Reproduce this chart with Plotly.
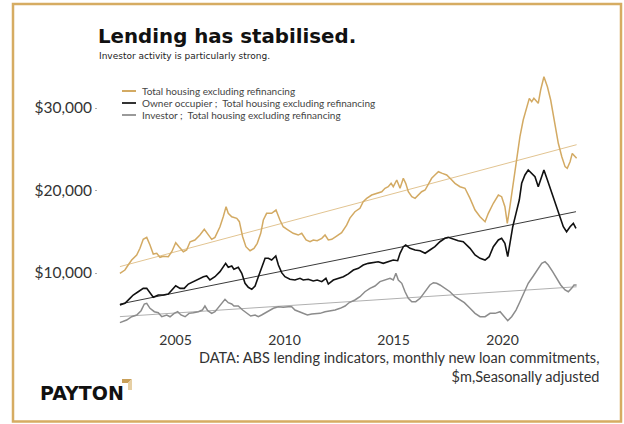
import numpy as np
import plotly.graph_objects as go

# Monthly new loan commitments, $m (seasonally adjusted), sampled along the series
total_years = [2002.45, 2002.68, 2002.83, 2002.99, 2003.22, 2003.37, 2003.52, 2003.68, 2003.83, 2003.98,
               2004.14, 2004.29, 2004.44, 2004.67, 2004.83, 2005.01, 2005.16, 2005.36, 2005.51, 2005.67,
               2005.89, 2006.12, 2006.32, 2006.50, 2006.66, 2006.81, 2007.04, 2007.19, 2007.32, 2007.42,
               2007.58, 2007.81, 2007.93, 2008.08, 2008.23, 2008.42, 2008.60, 2008.75, 2008.91, 2009.03,
               2009.18, 2009.41, 2009.61, 2009.79, 2009.94, 2010.17, 2010.40, 2010.63, 2010.79, 2010.99,
               2011.17, 2011.32, 2011.50, 2011.71, 2011.86, 2012.01, 2012.17, 2012.39, 2012.62, 2012.85,
               2013.00, 2013.23, 2013.46, 2013.61, 2013.77, 2014.00, 2014.23, 2014.46, 2014.61, 2014.76,
               2014.89, 2014.99, 2015.15, 2015.30, 2015.45, 2015.56, 2015.68, 2015.84, 2015.99, 2016.14,
               2016.29, 2016.45, 2016.60, 2016.75, 2016.90, 2017.06, 2017.24, 2017.44, 2017.64, 2017.82,
               2018.05, 2018.28, 2018.51, 2018.74, 2018.97, 2019.20, 2019.35, 2019.58, 2019.81, 2019.96,
               2020.11, 2020.22, 2020.34, 2020.50, 2020.65, 2020.80, 2020.95, 2021.11, 2021.23, 2021.34,
               2021.44, 2021.64, 2021.75, 2021.90, 2022.06, 2022.21, 2022.41, 2022.56, 2022.72, 2022.87,
               2022.97, 2023.10, 2023.20, 2023.33, 2023.40]
total_values = [9960, 10360, 10970, 11570, 12180, 12990, 14080, 14320, 13390, 12300,
                12390, 11900, 12020, 11980, 12580, 13670, 13190, 12580, 12790, 13790,
                14000, 14600, 15290, 14600, 14080, 14320, 15610, 16820, 18040, 17230,
                16820, 16630, 16220, 14400, 13190, 12700, 12990, 13600, 14810, 16420,
                17230, 17230, 17630, 16420, 15610, 15210, 14810, 14600, 14810, 14000,
                13790, 14000, 13910, 14200, 14600, 14000, 14080, 14480, 14880, 15800,
                16650, 17430, 17840, 18640, 19050, 19450, 19660, 19850, 20270, 20460,
                20870, 20460, 21270, 20270, 21480, 20870, 19850, 19250, 19050, 19450,
                19850, 20060, 20870, 21480, 21880, 22280, 22080, 21880, 21360, 20870,
                20460, 20270, 19050, 17630, 16820, 16220, 17230, 18450, 19450, 19250,
                18040, 16020, 18040, 20870, 23700, 26520, 28540, 30160, 31170, 30760,
                31170, 30570, 32180, 33790, 32580, 30970, 27730, 25720, 24100, 22890,
                22690, 23490, 24500, 24020, 23900]

owner_years = [2002.45, 2002.68, 2002.91, 2003.06, 2003.29, 2003.52, 2003.68, 2003.83, 2003.98, 2004.21,
               2004.44, 2004.67, 2004.85, 2005.01, 2005.21, 2005.40, 2005.59, 2005.82, 2006.05, 2006.28,
               2006.43, 2006.58, 2006.81, 2007.04, 2007.30, 2007.42, 2007.58, 2007.68, 2007.88, 2008.04,
               2008.19, 2008.34, 2008.50, 2008.65, 2008.80, 2008.95, 2009.11, 2009.26, 2009.41, 2009.60,
               2009.72, 2009.87, 2010.02, 2010.25, 2010.48, 2010.71, 2010.86, 2011.09, 2011.32, 2011.50,
               2011.71, 2011.90, 2012.01, 2012.24, 2012.47, 2012.70, 2012.93, 2013.16, 2013.39, 2013.61,
               2013.84, 2014.07, 2014.30, 2014.53, 2014.76, 2014.99, 2015.19, 2015.30, 2015.45, 2015.56,
               2015.76, 2015.99, 2016.22, 2016.45, 2016.67, 2016.90, 2017.13, 2017.36, 2017.51, 2017.74,
               2017.97, 2018.20, 2018.51, 2018.74, 2018.97, 2019.20, 2019.39, 2019.58, 2019.81, 2019.96,
               2020.11, 2020.24, 2020.34, 2020.47, 2020.62, 2020.77, 2020.88, 2021.03, 2021.18, 2021.34,
               2021.49, 2021.64, 2021.80, 2021.90, 2022.06, 2022.21, 2022.41, 2022.61, 2022.79, 2022.94,
               2023.10, 2023.25, 2023.37]
owner_values = [6120, 6330, 6930, 7330, 7730, 8140, 8140, 7540, 7050, 7330,
                7330, 7450, 7940, 8460, 8140, 8140, 8660, 8950, 9270, 9550,
                9640, 9150, 9550, 10160, 11170, 10690, 10850, 10450, 10690, 9960,
                8750, 8270, 8020, 8420, 9550, 10760, 11780, 11780, 11570, 12060,
                10970, 10040, 9550, 9240, 9150, 9360, 9150, 9240, 9030, 9150,
                8950, 9360, 8660, 9150, 9360, 9550, 9900, 10360, 10570, 10970,
                11170, 11250, 11370, 11170, 11370, 11570, 11490, 12390, 13190, 13390,
                12990, 12790, 12700, 12390, 12790, 13190, 13790, 14200, 14320, 14080,
                13910, 13790, 12990, 12180, 11780, 11570, 11980, 13190, 14000, 14200,
                13600, 11980, 13600, 15610, 17230, 18850, 20870, 21880, 22480, 22080,
                21670, 20460, 21670, 22480, 21270, 20060, 18450, 16820, 15610, 15000,
                15610, 16020, 15420]

investor_years = [2002.45, 2002.76, 2002.99, 2003.22, 2003.42, 2003.57, 2003.68, 2003.83, 2004.03, 2004.21,
                  2004.37, 2004.60, 2004.75, 2004.94, 2005.10, 2005.25, 2005.44, 2005.62, 2005.82, 2006.05,
                  2006.23, 2006.35, 2006.48, 2006.66, 2006.81, 2007.04, 2007.27, 2007.42, 2007.58, 2007.68,
                  2007.88, 2008.08, 2008.27, 2008.45, 2008.65, 2008.80, 2008.95, 2009.15, 2009.33, 2009.49,
                  2009.72, 2009.94, 2010.17, 2010.33, 2010.48, 2010.68, 2010.86, 2011.05, 2011.25, 2011.44,
                  2011.63, 2011.86, 2012.09, 2012.32, 2012.55, 2012.78, 2012.97, 2013.23, 2013.46, 2013.69,
                  2013.92, 2014.15, 2014.38, 2014.61, 2014.84, 2014.99, 2015.11, 2015.22, 2015.38, 2015.53,
                  2015.68, 2015.84, 2016.02, 2016.22, 2016.45, 2016.67, 2016.83, 2016.98, 2017.13, 2017.36,
                  2017.59, 2017.82, 2018.05, 2018.25, 2018.51, 2018.74, 2018.97, 2019.20, 2019.43, 2019.66,
                  2019.89, 2020.08, 2020.24, 2020.42, 2020.62, 2020.80, 2020.99, 2021.18, 2021.39, 2021.60,
                  2021.80, 2021.95, 2022.10, 2022.30, 2022.49, 2022.67, 2022.87, 2023.02, 2023.17, 2023.28,
                  2023.40]
investor_values = [3980, 4300, 4700, 4910, 5430, 6240, 6330, 5720, 5310, 5190,
                   4700, 4910, 4700, 5110, 5310, 4910, 4700, 5110, 5190, 5310,
                   5510, 6000, 5430, 5110, 5310, 6000, 6810, 6400, 6240, 6000,
                   6000, 5510, 5110, 4790, 4910, 4700, 4910, 5190, 5430, 5720,
                   5910, 5840, 5910, 5910, 5510, 5310, 5190, 4910, 5030, 5030,
                   5110, 5310, 5390, 5510, 5720, 6000, 6420, 6730, 7130, 7730,
                   8140, 8420, 8950, 9150, 9360, 9150, 9960, 9150, 8750, 7730,
                   6930, 6520, 6520, 6930, 7730, 8550, 8820, 8750, 8550, 8140,
                   7730, 7130, 6700, 6400, 5720, 5110, 4700, 4700, 5110, 5110,
                   5310, 4700, 4220, 4700, 5510, 6520, 7730, 8750, 9550, 10450,
                   11170, 11370, 10970, 10160, 9240, 8550, 7940, 7730, 8140, 8550,
                   8550]

series_names = [
    "Total housing excluding refinancing",
    "Owner occupier ;  Total housing excluding refinancing",
    "Investor ;  Total housing excluding refinancing",
]
year_ticks = [2005, 2010, 2015, 2020]
value_ticks = [10000, 20000, 30000]

GOLD = "#D3AA63"
BORDER = "#D6AC62"
series_style = [
    (total_years, total_values, GOLD, 1.5, "#E2C491"),
    (owner_years, owner_values, "#111111", 1.6, "#3a3a3a"),
    (investor_years, investor_values, "#8c8c8c", 1.5, "#b0b0b0"),
]

W, H = 624, 424
L, R, T, B = 98, 585, 70, 330


def fx(px):
    return (px - L) / (R - L)


def fy(py):
    return (B - py) / (B - T)


fig = go.Figure()

# linear trend for each series, fitted with least squares
for yrs, vals, col, lw, tcol in series_style:
    k, c = np.polyfit(yrs, vals, 1)
    xs = np.array([yrs[0], yrs[-1]])
    fig.add_trace(go.Scatter(x=xs, y=k * xs + c, mode="lines",
                             line=dict(color=tcol, width=1), hoverinfo="skip",
                             showlegend=False))

for (yrs, vals, col, lw, tcol), name in zip(series_style, series_names):
    fig.add_trace(go.Scatter(x=yrs, y=vals, mode="lines", name=name,
                             line=dict(color=col, width=lw), showlegend=False))

x0 = 2005 + (L - 175.5) / 21.8
x1 = 2005 + (R - 175.5) / 21.8
y_lo = (355.5 - B) * 10000 / 82.5
y_hi = (355.5 - T) * 10000 / 82.5

fig.update_layout(
    width=W, height=H,
    margin=dict(l=L, r=W - R, t=T, b=H - B),
    paper_bgcolor="white", plot_bgcolor="white",
    font=dict(family="Lato, 'Open Sans', sans-serif", color="#333333"),
    xaxis=dict(range=[x0, x1], tickvals=year_ticks, ticktext=[str(y) for y in year_ticks],
               showgrid=False, zeroline=False, showline=False, ticks="",
               tickfont=dict(size=14, color="#333333")),
    yaxis=dict(range=[y_lo, y_hi], tickvals=value_ticks,
               ticktext=["${:,}".format(v) for v in value_ticks],
               showgrid=False, zeroline=False, showline=False,
               ticks="outside", ticklen=2, tickcolor="#aaaaaa", tickwidth=1,
               tickfont=dict(size=15.5, color="#333333")),
)

shapes = []
annotations = []

# frame around the whole graphic
shapes.append(dict(type="rect", xref="paper", yref="paper",
                   x0=fx(13), x1=fx(621), y0=fy(421.5), y1=fy(4),
                   line=dict(color=BORDER, width=2.5), fillcolor="rgba(0,0,0,0)"))

# legend block
legend_rows = [91, 103, 115]
legend_cols = [GOLD, "#333333", "#9a9a9a"]
for name, row, col in zip(series_names, legend_rows, legend_cols):
    shapes.append(dict(type="line", xref="paper", yref="paper",
                       x0=fx(122), x1=fx(136), y0=fy(row), y1=fy(row),
                       line=dict(color=col, width=2)))
    annotations.append(dict(xref="paper", yref="paper", x=fx(140), y=fy(row),
                            xanchor="left", yanchor="middle", showarrow=False,
                            text=name, font=dict(size=10, color="#444444")))

# title and subtitle
annotations.append(dict(xref="paper", yref="paper", x=fx(96), y=fy(36),
                        xanchor="left", yanchor="middle", showarrow=False,
                        text="<b>Lending has stabilised.</b>",
                        font=dict(size=19.8, color="#111111",
                                  family="'DejaVu Sans', sans-serif")))
annotations.append(dict(xref="paper", yref="paper", x=fx(97), y=fy(56),
                        xanchor="left", yanchor="middle", showarrow=False,
                        text="Investor activity is particularly strong.",
                        font=dict(size=9, color="#222222",
                                  family="'DejaVu Sans', sans-serif")))

# source note
annotations.append(dict(xref="paper", yref="paper", x=fx(601), y=fy(366.5),
                        xanchor="right", yanchor="middle", align="right", showarrow=False,
                        text="DATA: ABS lending indicators, monthly new loan commitments,<br>"
                             "$m,Seasonally adjusted",
                        font=dict(size=14.5, color="#333333")))

# brand mark
annotations.append(dict(xref="paper", yref="paper", x=fx(38), y=fy(393),
                        xanchor="left", yanchor="middle", showarrow=False,
                        text="<b>PAYTON</b>",
                        font=dict(size=19, color="#111111",
                                  family="'DejaVu Sans', sans-serif")))


def path(points):
    return "M " + " L ".join("{:.4f},{:.4f}".format(fx(a), fy(b)) for a, b in points) + " Z"


shapes.append(dict(type="path", xref="paper", yref="paper",
                   path=path([(122, 379), (132, 379), (128, 383), (122, 383)]),
                   fillcolor="#C9A05A", line=dict(width=0)))
shapes.append(dict(type="path", xref="paper", yref="paper",
                   path=path([(132, 379), (132, 390), (128, 390), (128, 383)]),
                   fillcolor="#E6CFA4", line=dict(width=0)))

fig.update_layout(shapes=shapes, annotations=annotations)
fig.write_html("out.html")
